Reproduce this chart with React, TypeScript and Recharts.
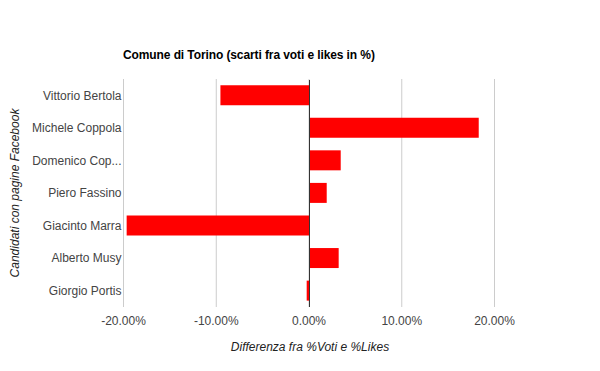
import React from 'react';
import { BarChart, Bar, XAxis, YAxis, CartesianGrid, ReferenceLine, Label } from 'recharts';

const candidates = [
  'Vittorio Bertola',
  'Michele Coppola',
  'Domenico Cop...',
  'Piero Fassino',
  'Giacinto Marra',
  'Alberto Musy',
  'Giorgio Portis',
];
const differences = [-9.55, 18.3, 3.42, 1.91, -19.66, 3.2, -0.25];
const xTicks = [-20, -10, 0, 10, 20];

const data = candidates.map((name, i) => ({ name, value: differences[i] }));

const FONT = '"Liberation Sans", Arial, sans-serif';

const ZeroLine = (props: any) => (
  <line
    x1={props.x1 + 0.5}
    x2={props.x2 + 0.5}
    y1={props.y1}
    y2={props.y2 + 1}
    stroke="#333333"
    strokeWidth={1}
  />
);

export default function App() {
  return (
    <div style={{ position: 'absolute', left: 0, top: 0, width: 600, height: 371, background: '#fff', fontFamily: FONT }}>
      <div
        style={{
          position: 'absolute',
          left: 123,
          top: 47,
          fontSize: 12,
          fontWeight: 'bold',
          color: '#000',
          fontFamily: FONT,
          lineHeight: '16px',
          whiteSpace: 'nowrap',
          letterSpacing: '-0.1px',
        }}
      >
        Comune di Torino (scarti fra voti e likes in %)
      </div>
      <BarChart
        width={600}
        height={371}
        data={data}
        layout="vertical"
        margin={{ top: 79, right: 105.5, bottom: 34, left: 0.5 }}
        barCategoryGap="19%"
      >
        <CartesianGrid horizontal={false} stroke="#cccccc" />
        <XAxis
          type="number"
          domain={[-20, 20]}
          ticks={xTicks}
          tickFormatter={(v: number) => v.toFixed(2) + '%'}
          axisLine={false}
          tickLine={false}
          tickSize={0}
          tickMargin={9}
          height={30}
          tick={{ fontSize: 12, fill: '#444', fontFamily: FONT }}
          interval={0}
        >
          <Label
            content={() => (
              <text
                x={310}
                y={351}
                textAnchor="middle"
                fontSize={12}
                fontStyle="italic"
                fill="#222"
                fontFamily={FONT}
              >
                Differenza fra %Voti e %Likes
              </text>
            )}
          />
        </XAxis>
        <YAxis
          type="category"
          dataKey="name"
          width={123}
          axisLine={false}
          tickLine={false}
          tickSize={0}
          tickMargin={2}
          interval={0}
          tick={{ fontSize: 12, fill: '#444', fontFamily: FONT }}
        >
          <Label
            content={() => (
              <text
                x={19}
                y={193}
                transform="rotate(-90 19 193)"
                textAnchor="middle"
                fontSize={12}
                fontStyle="italic"
                fill="#222"
                fontFamily={FONT}
              >
                Candidati con pagine Facebook
              </text>
            )}
          />
        </YAxis>
        <Bar dataKey="value" fill="#ff0000" isAnimationActive={false} />
        <ReferenceLine x={0} stroke="#333333" strokeWidth={1} shape={ZeroLine} />
      </BarChart>
    </div>
  );
}
